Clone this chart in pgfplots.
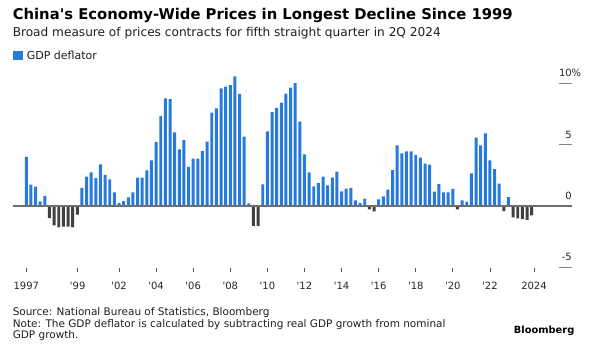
\documentclass[border=0pt]{standalone}
\usepackage{fontspec}
\setmainfont{DejaVu Sans}
\usepackage{pgfplots}
\pgfplotsset{compat=1.18}
\definecolor{bbblue}{RGB}{38,122,222}
\definecolor{bbneg}{RGB}{64,64,64}
\definecolor{zline}{RGB}{110,110,110}
\definecolor{seg}{RGB}{130,130,130}
\begin{document}
\begin{tikzpicture}[x=0.75pt,y=0.75pt]
\useasboundingbox (0,0) rectangle (594,356);
\node[anchor=base west, inner sep=0pt, font=\fontsize{11.1}{13}\selectfont\bfseries] at (12.5,336.5) {China\textquotesingle s Economy-Wide Prices in Longest Decline Since 1999};
\node[anchor=base west, inner sep=0pt, font=\fontsize{9.1}{11}\selectfont, text=black!88] at (12.5,319.5) {Broad measure of prices contracts for fifth straight quarter in 2Q 2024};
\fill[bbblue] (13.3,296) rectangle (22.8,304.5);
\node[anchor=base west, inner sep=0pt, font=\fontsize{8.25}{10}\selectfont, text=black!88] at (26.5,296.5) {GDP deflator};
\begin{axis}[
  at={(19.725pt,112.5pt)}, anchor=origin, scale only axis,
  width=419.25pt, height=147.98pt,
  xmin=-2.87, xmax=117.7, ymin=-5.08, ymax=11,
  axis line style={draw=none},
  ytick=\empty,
  xtick={0,11.08,20,28,36,44,52,60,68,76,84,92,100,109.5},
  xticklabels={1997,\textquotesingle 99,\textquotesingle 02,\textquotesingle 04,\textquotesingle 06,\textquotesingle 08,\textquotesingle 10,\textquotesingle 12,\textquotesingle 14,\textquotesingle 16,\textquotesingle 18,\textquotesingle 20,\textquotesingle 22,2024},
  tick align=outside, major tick length=3pt,
  xtick pos=bottom,
  xtick style={draw=black!65, line width=0.6pt},
  xticklabel style={font=\fontsize{7.5}{9}\selectfont, text=black!85, anchor=base, inner sep=0pt, yshift=-12.8pt},
  /pgf/number format/assume math mode=true,
  clip=false,
]
\addplot[ybar, bar width=0.64, bar shift=0pt, fill=bbblue, draw=none] coordinates {
(0,4.0) (1,1.74) (2,1.58) (3,0.38) (4,0.82)
(12,1.47) (13,2.39) (14,2.74) (15,2.28) (16,3.40) (17,2.53) (18,2.17) (19,1.11)
(20,0.23) (21,0.40) (22,0.71) (23,1.12) (24,2.32) (25,2.32) (26,2.90) (27,3.72) (28,5.22) (29,7.33)
(30,8.78) (31,8.71) (32,6.0) (33,4.62) (34,5.36) (35,3.18) (36,3.86) (37,3.86) (38,4.48) (39,5.24)
(40,7.61) (41,7.96) (42,9.59) (43,9.73) (44,9.86) (45,10.57) (46,9.13) (47,5.65) (48,0.22)
(51,1.77) (52,6.09) (53,7.66) (54,7.99) (55,8.42) (56,9.16) (57,9.65) (58,10.02) (59,6.88)
(60,4.21) (61,2.74) (62,1.60) (63,1.87) (64,2.39) (65,1.68) (66,2.31) (67,2.80) (68,1.20) (69,1.41)
(70,1.47) (71,0.46) (72,0.24) (73,0.60) (76,0.54) (77,0.79) (78,1.33) (79,2.93)
(80,4.95) (81,4.29) (82,4.46) (83,4.46) (84,4.16) (85,3.94) (86,3.45) (87,3.37) (88,1.17) (89,1.79)
(90,1.11) (91,1.11) (92,1.39) (94,0.46) (95,0.35) (96,2.66) (97,5.57) (98,4.95) (99,5.92)
(100,3.72) (101,3.0) (102,1.82) (104,0.73)
};
\addplot[ybar, bar width=0.64, bar shift=0pt, fill=bbneg, draw=none] coordinates {
(5,-0.98) (6,-1.58) (7,-1.74) (8,-1.68) (9,-1.68) (10,-1.74) (11,-0.71)
(49,-1.63) (50,-1.63) (74,-0.27) (75,-0.43) (93,-0.27) (103,-0.41)
(105,-0.92) (106,-1.0) (107,-1.06) (108,-1.14) (109,-0.76)
};
\draw[zline, line width=0.8pt] (axis cs:-2.87,0) -- (axis cs:117.7,0);
\draw[seg, line width=0.8pt] (axis cs:114.9,10) -- (axis cs:117.7,10);
\draw[seg, line width=0.8pt] (axis cs:114.9,5) -- (axis cs:117.7,5);
\draw[seg, line width=0.8pt] (axis cs:114.9,-5) -- (axis cs:117.7,-5);
\node[anchor=base east, inner sep=0pt, font=\fontsize{7.5}{9}\selectfont, text=black!85, yshift=4.9pt] at (axis cs:117.7,10) {10\rlap{\%}};
\node[anchor=base east, inner sep=0pt, font=\fontsize{7.5}{9}\selectfont, text=black!85, yshift=4.9pt] at (axis cs:117.7,5) {5};
\node[anchor=base east, inner sep=0pt, font=\fontsize{7.5}{9}\selectfont, text=black!85, yshift=4.9pt] at (axis cs:117.7,0) {0};
\node[anchor=base east, inner sep=0pt, font=\fontsize{7.5}{9}\selectfont, text=black!85, yshift=4.9pt] at (axis cs:117.7,-5) {-5};
\end{axis}
\node[anchor=base west, inner sep=0pt, font=\fontsize{7.86}{9}\selectfont, text=black!88] at (12.5,40) {Source: National Bureau of Statistics, Bloomberg};
\node[anchor=base west, inner sep=0pt, font=\fontsize{7.86}{9}\selectfont, text=black!88] at (12.5,28.5) {Note: The GDP deflator is calculated by subtracting real GDP growth from nominal};
\node[anchor=base west, inner sep=0pt, font=\fontsize{7.86}{9}\selectfont, text=black!88] at (12.5,17.5) {GDP growth.};
\node[anchor=base east, inner sep=0pt, font=\fontsize{7.4}{9}\selectfont\bfseries] at (574.6,22.5) {Bloomberg};
\end{tikzpicture}
\end{document}
